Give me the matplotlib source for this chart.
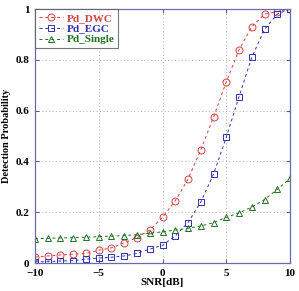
import matplotlib
matplotlib.use("Agg")
import matplotlib.pyplot as plt

plt.rcParams["font.family"] = ["Liberation Serif", "DejaVu Serif"]
plt.rcParams["font.weight"] = "bold"

snr = list(range(-10, 11))
pd_dwc = [0.024, 0.028, 0.032, 0.035, 0.038, 0.05, 0.06, 0.08, 0.10, 0.13,
          0.18, 0.245, 0.33, 0.445, 0.574, 0.713, 0.84, 0.93, 0.98, 0.99, 1.0]
pd_egc = [0.005, 0.006, 0.008, 0.010, 0.015, 0.02, 0.023, 0.028, 0.038, 0.055,
          0.07, 0.107, 0.159, 0.24, 0.35, 0.495, 0.655, 0.81, 0.92, 0.98, 1.0]
pd_single = [0.096, 0.097, 0.099, 0.10, 0.102, 0.104, 0.106, 0.108, 0.112, 0.117,
             0.123, 0.13, 0.137, 0.146, 0.159, 0.18, 0.198, 0.22, 0.25, 0.29, 0.333]

xticks = [-10, -5, 0, 5, 10]
yticks = [0, 0.2, 0.4, 0.6, 0.8, 1]

fig = plt.figure(figsize=(2.99, 2.91), dpi=100)
ax = fig.add_axes([0.117, 0.096, 0.853, 0.873])

series = [
    (pd_dwc, "Pd_DWC", "#d04040", "o", 5),
    (pd_egc, "Pd_EGC", "#3030b0", "s", 4),
    (pd_single, "Pd_Single", "#207020", "^", 4.5),
]
for vals, name, col, mk, ms in series:
    ax.plot(snr, vals, linestyle=(0, (3, 3)), color=col, linewidth=0.7,
            marker=mk, markersize=ms, markerfacecolor="none",
            markeredgewidth=0.7, label=name)

ax.set_xlim(-10, 10)
ax.set_ylim(0, 1)
ax.set_xticks(xticks)
ax.set_yticks(yticks)
ax.set_yticklabels(["0", "0.2", "0.4", "0.6", "0.8", "1"])
ax.tick_params(direction="in", labelsize=8, length=3, color="#5a5aa8",
               top=True, right=True, pad=4)
for s in ax.spines.values():
    s.set_color("#6a6ab0")
    s.set_linewidth(0.9)
ax.grid(True, linestyle=(0, (1, 2.5)), color="#b0b0b0", linewidth=0.7)

ax.set_xlabel("SNR[dB]", fontsize=8, fontweight="bold", labelpad=0)
ax.set_ylabel("Detection Probability", fontsize=7.5, fontweight="bold", labelpad=3)

leg = ax.legend(loc="upper left", fontsize=8, frameon=True, fancybox=False,
                borderaxespad=0, handlelength=2.2, handletextpad=0.3,
                labelspacing=0.1, borderpad=0.35)
leg.get_frame().set_edgecolor("#555555")
leg.get_frame().set_linewidth(0.8)
for txt, (_, _, col, _, _) in zip(leg.get_texts(), series):
    txt.set_color(col)
    txt.set_fontweight("bold")

fig.savefig("out.png", dpi=100)
